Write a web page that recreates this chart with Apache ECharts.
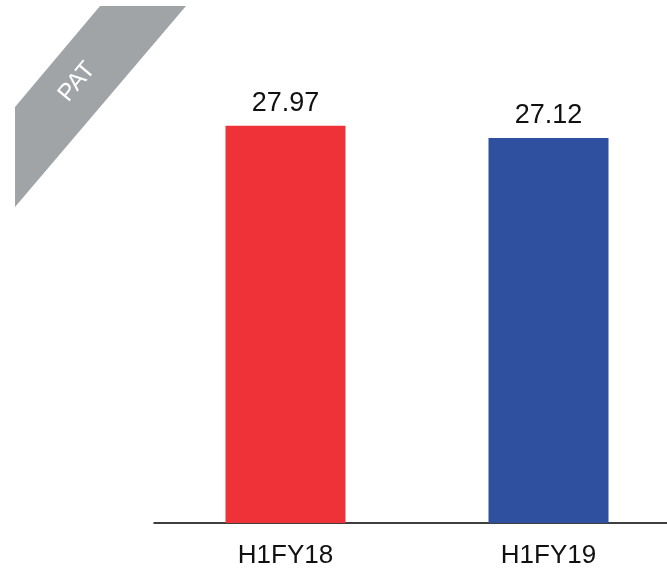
<!DOCTYPE html>
<html>
<head>
<meta charset="utf-8">
<script src="https://cdn.jsdelivr.net/npm/echarts@6/dist/echarts.min.js"></script>
<style>
  html, body { margin: 0; padding: 0; background: #fff; overflow: hidden; }
  #chart { width: 690px; height: 569px; }
</style>
</head>
<body>
<div id="chart"></div>
<script>
// 数据
const categories = ['H1FY18', 'H1FY19']
const patValues = [27.97, 27.12]
const barColors = ['#EE3238', '#2F509F']
const ribbonTitle = 'PAT'

const chart = echarts.init(document.getElementById('chart'))

const option = {
  animation: false,
  grid: {
    left: 154,
    right: 10,
    top: 97,
    bottom: 45
  },
  xAxis: {
    type: 'category',
    data: categories,
    axisLine: { lineStyle: { color: '#000', width: 1.5 } },
    axisTick: { show: false },
    axisLabel: {
      color: '#111',
      fontSize: 26,
      fontFamily: 'Liberation Sans',
      margin: 20
    }
  },
  yAxis: {
    type: 'value',
    min: 0,
    max: 30,
    show: false,
    splitLine: { show: false }
  },
  graphic: [
    {
      type: 'polygon',
      shape: { points: [[100, 6], [186, 6], [15, 207], [15, 107]] },
      style: { fill: '#A1A4A7' }
    },
    {
      type: 'text',
      x: 77,
      y: 82,
      rotation: Math.PI * 50 / 180,
      style: {
        text: ribbonTitle,
        fill: '#fff',
        fontSize: 24,
        fontFamily: 'Liberation Sans',
        align: 'center',
        verticalAlign: 'middle'
      }
    }
  ],
  series: [
    {
      type: 'bar',
      barWidth: 120,
      data: patValues.map((v, i) => ({ value: v, itemStyle: { color: barColors[i] } })),
      label: {
        show: true,
        position: 'top',
        distance: 9,
        color: '#111',
        fontSize: 27,
        fontFamily: 'Liberation Sans'
      }
    }
  ]
}

chart.setOption(option)
</script>
</body>
</html>
